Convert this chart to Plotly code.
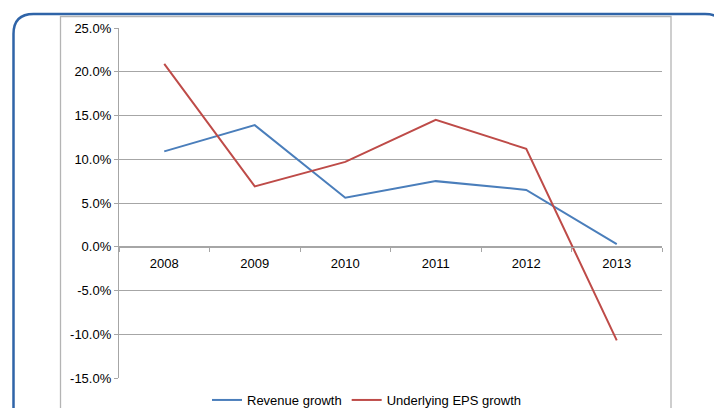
import plotly.graph_objects as go

years = ["2008", "2009", "2010", "2011", "2012", "2013"]
revenue_growth = [10.9, 13.9, 5.6, 7.5, 6.5, 0.3]
eps_growth = [20.9, 6.9, 9.7, 14.5, 11.2, -10.7]
y_tick_vals = [-15, -10, -5, 0, 5, 10, 15, 20, 25]
y_tick_text = ["-15.0%", "-10.0%", "-5.0%", "0.0%", "5.0%", "10.0%", "15.0%", "20.0%", "25.0%"]

W, H = 714, 408
ML, MR, MT, MB = 119, 52, 28, 30
PW, PH = W - ML - MR, H - MT - MB

def px(x):
    return (x - ML) / PW

def py(y):
    return (H - MB - y) / PH

FONT = "Liberation Sans, Arial, sans-serif"

fig = go.Figure()
fig.add_trace(go.Scatter(x=years, y=revenue_growth, mode="lines", name="Revenue growth",
                         line=dict(color="#4a7ebb", width=2)))
fig.add_trace(go.Scatter(x=years, y=eps_growth, mode="lines", name="Underlying EPS growth",
                         line=dict(color="#be4b48", width=2)))

# outer rounded border
L, T, R, B, r = 13.5, 14, 725, 429, 20
outer = (f"M {px(L)},{py(B - r)} L {px(L)},{py(T + r)} Q {px(L)},{py(T)} {px(L + r)},{py(T)} "
         f"L {px(R - r)},{py(T)} Q {px(R)},{py(T)} {px(R)},{py(T + r)} L {px(R)},{py(B - r)} "
         f"Q {px(R)},{py(B)} {px(R - r)},{py(B)} L {px(L + r)},{py(B)} Q {px(L)},{py(B)} {px(L)},{py(B - r)} Z")
shapes = [
    dict(type="path", xref="paper", yref="paper", path=outer,
         line=dict(color="#2f64a8", width=2.5), layer="below"),
    dict(type="rect", xref="paper", yref="paper", x0=px(60.5), x1=px(671), y0=py(440), y1=py(16.5),
         line=dict(color="#b4b4b4", width=1.3), layer="below"),
]

fig.update_layout(
    width=W, height=H,
    margin=dict(l=ML, r=MR, t=MT, b=MB, autoexpand=False),
    paper_bgcolor="white", plot_bgcolor="white",
    font=dict(family=FONT, size=13, color="#000000"),
    shapes=shapes,
    showlegend=True,
    legend=dict(orientation="h", x=px(367), xanchor="center", y=py(400), yanchor="middle",
                font=dict(size=13), bgcolor="rgba(0,0,0,0)", itemwidth=30),
    xaxis=dict(type="category", range=[-0.5, 5.5], anchor="free", position=15 / 40,
               showline=True, linecolor="#a6a6a6", linewidth=1.3,
               ticks="outside", tickson="boundaries", ticklen=4, tickcolor="#a6a6a6", tickwidth=1,
               showgrid=False, zeroline=False, tickfont=dict(size=13), ticklabelstandoff=4),
    yaxis=dict(range=[-15, 25], tickvals=y_tick_vals, ticktext=y_tick_text,
               showline=True, linecolor="#a6a6a6", linewidth=1.3,
               ticks="outside", ticklen=4, tickcolor="#a6a6a6",
               showgrid=True, gridcolor="#a6a6a6", gridwidth=1.3, zeroline=False,
               tickfont=dict(size=13), domain=[0, 1]),
)

fig.write_html("out.html")
